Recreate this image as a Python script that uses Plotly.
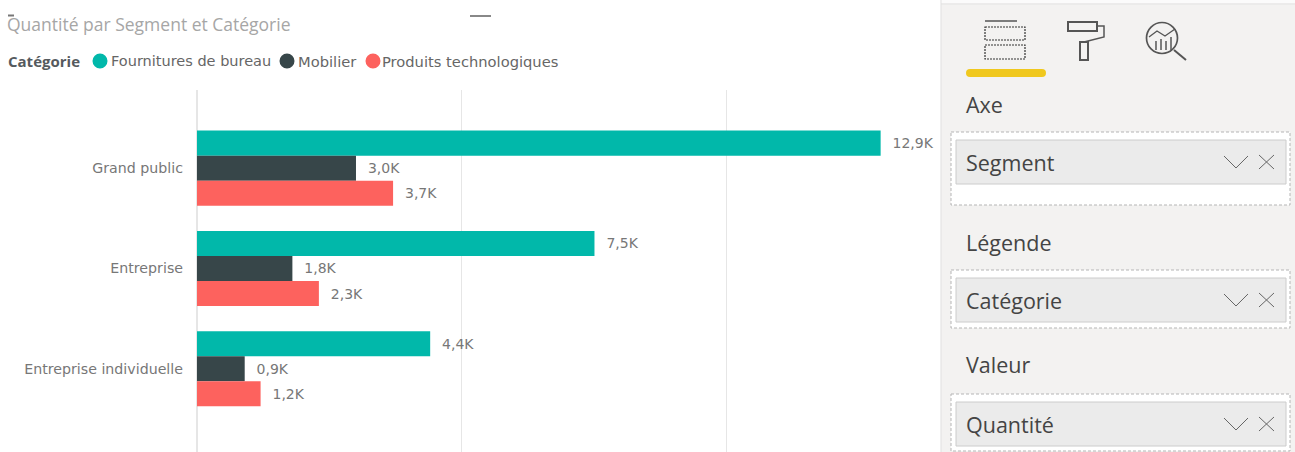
import plotly.graph_objects as go

WIDTH, HEIGHT = 1295, 452

segments = ["Grand public", "Entreprise", "Entreprise individuelle"]
fournitures = [12900, 7500, 4400]
mobilier = [3000, 1800, 900]
technologiques = [3700, 2300, 1200]
series_names = ["Fournitures de bureau", "Mobilier", "Produits technologiques"]
series_colors = ["#01B8AA", "#374649", "#FD625E"]
field_labels = ["Segment", "Catégorie", "Quantité"]
section_labels = ["Axe", "Légende", "Valeur"]

FONT = "Open Sans"
LABEL_FONT = "DejaVu Sans"


def fx(x):
    return x / WIDTH


def fy(y):
    return 1 - y / HEIGHT


def kilo(v):
    return f"\u00a0\u00a0{v / 1000:.1f}K".replace(".", ",")


shapes = []
annotations = []


def rect(x0, y0, x1, y1, fill="rgba(0,0,0,0)", line="rgba(0,0,0,0)", width=1, dash="solid"):
    shapes.append(dict(type="rect", xref="paper", yref="paper", x0=fx(x0), x1=fx(x1), y0=fy(y0), y1=fy(y1),
                       fillcolor=fill, line=dict(color=line, width=width, dash=dash)))


def circle(cx, cy, r, fill="rgba(0,0,0,0)", line="rgba(0,0,0,0)", width=1):
    shapes.append(dict(type="circle", xref="paper", yref="paper", x0=fx(cx - r), x1=fx(cx + r),
                       y0=fy(cy - r), y1=fy(cy + r), fillcolor=fill, line=dict(color=line, width=width)))


def poly(points, color="#555555", width=1.5, closed=False):
    d = "M " + " L ".join(f"{fx(x):.5f},{fy(y):.5f}" for x, y in points) + (" Z" if closed else "")
    shapes.append(dict(type="path", xref="paper", yref="paper", path=d, line=dict(color=color, width=width)))


def text(x, y, s, size, color, anchor="left", family=FONT):
    annotations.append(dict(xref="paper", yref="paper", x=fx(x), y=fy(y), text=s, showarrow=False,
                            xanchor=anchor, yanchor="middle", font=dict(family=family, size=size, color=color)))


# Header of the visual: title and hand-laid legend row
text(5, 24, "Quantité par Segment et Catégorie", 17.5, "#a6a6a6")
poly([(8, 15.5), (14, 15.5)], "#777777", 2)
poly([(470, 16), (491, 16)], "#888888", 2)
text(6, 61, "<b>Catégorie</b>", 15, "#555a5e")
text(109, 61, series_names[0], 14.5, "#666666", family=LABEL_FONT)
text(296, 61, series_names[1], 14.7, "#666666", family=LABEL_FONT)
text(380, 61, series_names[2], 14.7, "#666666", family=LABEL_FONT)
for cx, color in zip((100, 287, 373), series_colors):
    circle(cx, 61, 7.5, fill=color)

# Field-well panel on the right
rect(941, 0, WIDTH, HEIGHT, fill="#f3f2f1")
rect(941, 0, WIDTH, 3, fill="#fbfbfb")
poly([(941, 4), (WIDTH, 4)], "#e4e4e4", 1)
poly([(941, 0), (941, HEIGHT)], "#e0e0e0", 1)

# Tab icons
poly([(985, 21), (1017, 21)], "#555555", 1.5)
rect(985, 27, 1025, 40, line="#333333", width=1.2, dash="2px,1px")
rect(985, 45, 1025, 59, line="#333333", width=1.2, dash="2px,1px")
rect(970, 69, 1042, 77, fill="#f0c81e", line="#f0c81e", width=0)
circle(970, 73, 4, fill="#f0c81e")
circle(1042, 73, 4, fill="#f0c81e")
rect(1068, 22, 1097, 31, line="#555555", width=2)
poly([(1097, 26), (1104, 26), (1104, 37), (1084, 42)], "#555555", 1.5)
rect(1080, 42, 1088, 60, line="#555555", width=2)
circle(1162, 38, 15.5, line="#555555", width=1.7)
poly([(1174, 50), (1186, 60)], "#555555", 2)
poly([(1149, 37), (1157, 31), (1165, 36), (1175, 29)], "#555555", 1.3)
for x, top in ((1156, 41), (1161, 39), (1166, 41), (1171, 37)):
    poly([(x, top), (x, 50)], "#555555", 1.5)

# Field wells: section heading, dashed drop zone, field pill with chevron and cross
well_tops = [132, 270, 394]
heading_y = [104, 242, 364]
for label, section, top, hy in zip(field_labels, section_labels, well_tops, heading_y):
    text(964, hy, section, 21.5, "#444444")
    bottom = min(top + 73, HEIGHT - 1) if top == 132 else min(top + 58, HEIGHT - 1)
    rect(951, top, 1290, bottom, fill="#ffffff", line="#b5b5b5", width=1, dash="3px,2px")
    rect(956, top + 8, 1286, top + 52, fill="#ebebeb", line="#cccccc", width=1)
    mid = top + 30
    text(964, mid, label, 21.5, "#444444")
    poly([(1224, mid - 6), (1236, mid + 6), (1248, mid - 6)], "#666666", 1)
    poly([(1259, mid - 7), (1274, mid + 7)], "#666666", 1)
    poly([(1274, mid - 7), (1259, mid + 7)], "#666666", 1)

fig = go.Figure()
for name, values, color in zip(series_names, (fournitures, mobilier, technologiques), series_colors):
    fig.add_bar(name=name, y=segments, x=values, orientation="h", marker=dict(color=color, line=dict(width=0)),
                text=[kilo(v) for v in values], textposition="outside", cliponaxis=False,
                textfont=dict(family=LABEL_FONT, size=14, color="#777777"))

fig.update_layout(
    width=WIDTH, height=HEIGHT, autosize=False, margin=dict(l=0, r=0, t=0, b=0),
    paper_bgcolor="#ffffff", plot_bgcolor="#ffffff", barmode="group", bargap=0.25, bargroupgap=0,
    showlegend=False, shapes=shapes, annotations=annotations, uniformtext=dict(mode=False),
    xaxis=dict(domain=[fx(197), fx(940)], range=[0, 14020], dtick=5000, showticklabels=False,
               showgrid=True, gridcolor="#e6e6e6", gridwidth=1, zeroline=True, zerolinecolor="#e6e6e6",
               showline=False, ticks=""),
    yaxis=dict(domain=[0, fy(90)], range=[2.83, -0.78], type="category", categoryorder="array",
               categoryarray=segments, showgrid=False, showline=False, ticks="", ticklabelstandoff=13,
               tickfont=dict(family=LABEL_FONT, size=14.2, color="#777777")),
)
fig.write_html("out.html")
